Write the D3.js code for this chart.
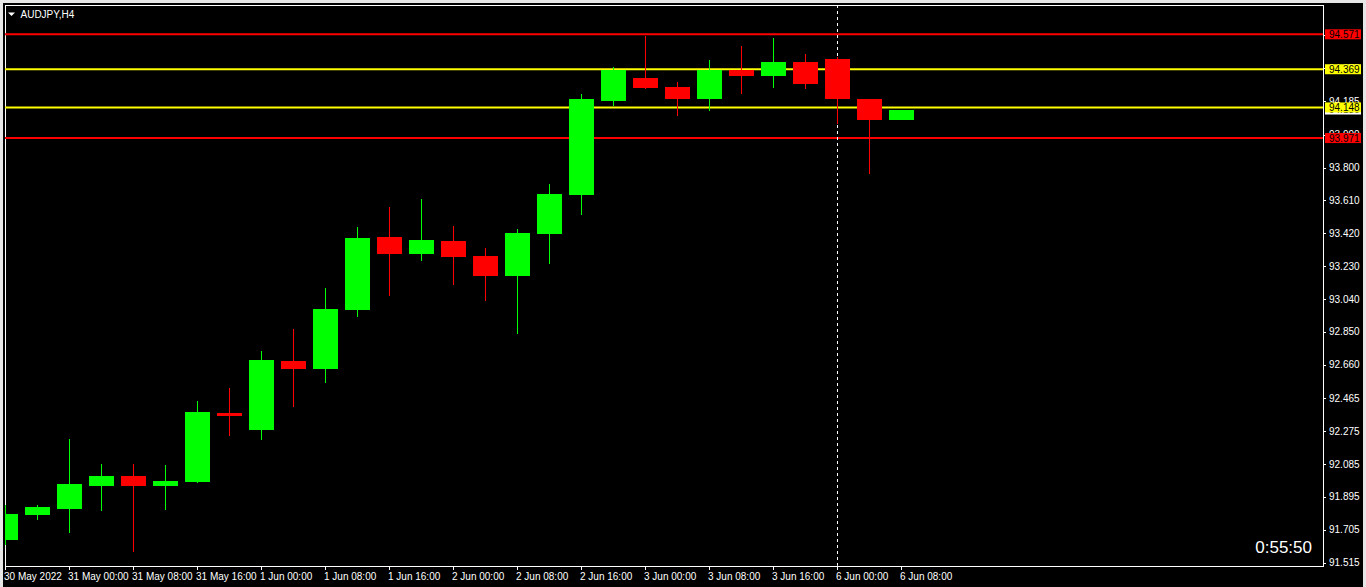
<!DOCTYPE html>
<html>
<head>
<meta charset="utf-8">
<script src="https://cdn.jsdelivr.net/npm/d3@7/dist/d3.min.js"></script>
<style>
  html, body { margin: 0; padding: 0; background: #e6e6e6; overflow: hidden; }
  svg { display: block; }
  text { font-family: "Liberation Sans", Arial, sans-serif; }
</style>
</head>
<body>
<svg id="chart" width="1366" height="587"></svg>
<script>
// ---- data (AUDJPY, H4) ----
const candleTimes = [
  "30 May 16:00","30 May 20:00","31 May 00:00","31 May 04:00","31 May 08:00","31 May 12:00",
  "31 May 16:00","31 May 20:00","1 Jun 00:00","1 Jun 04:00","1 Jun 08:00","1 Jun 12:00",
  "1 Jun 16:00","1 Jun 20:00","2 Jun 00:00","2 Jun 04:00","2 Jun 08:00","2 Jun 12:00",
  "2 Jun 16:00","2 Jun 20:00","3 Jun 00:00","3 Jun 04:00","3 Jun 08:00","3 Jun 12:00",
  "3 Jun 16:00","3 Jun 20:00","6 Jun 00:00","6 Jun 04:00","6 Jun 08:00"
];
const opens  = [91.646,91.791,91.825,91.958,92.016,91.958,91.981,92.380,92.282,92.680,92.634,92.975,93.397,93.298,93.374,93.287,93.171,93.414,93.639,94.188,94.321,94.269,94.194,94.367,94.332,94.413,94.430,94.199,94.078];
const highs  = [91.848,91.848,92.230,92.085,92.085,92.079,92.449,92.524,92.739,92.865,93.102,93.454,93.570,93.616,93.460,93.333,93.443,93.703,94.223,94.379,94.564,94.298,94.425,94.506,94.552,94.459,94.442,94.199,94.136];
const lows   = [91.617,91.762,91.687,91.814,91.577,91.820,91.975,92.247,92.224,92.414,92.553,92.934,93.056,93.258,93.119,93.027,92.836,93.241,93.524,94.159,94.252,94.101,94.130,94.223,94.263,94.252,94.055,93.761,94.078];
const closes = [91.796,91.837,91.970,92.016,91.958,91.987,92.386,92.365,92.686,92.634,92.981,93.391,93.298,93.379,93.281,93.171,93.420,93.645,94.194,94.367,94.263,94.194,94.367,94.332,94.413,94.286,94.194,94.078,94.136];

const xLabelIdx  = [0,2,4,6,8,10,12,14,16,18,20,22,24,26,28];
const xLabelText = ["30 May 2022","31 May 00:00","31 May 08:00","31 May 16:00","1 Jun 00:00","1 Jun 08:00","1 Jun 16:00","2 Jun 00:00","2 Jun 08:00","2 Jun 16:00","3 Jun 00:00","3 Jun 08:00","3 Jun 16:00","6 Jun 00:00","6 Jun 08:00"];

const yTicks = [91.515,91.705,91.895,92.085,92.275,92.465,92.660,92.850,93.040,93.230,93.420,93.610,93.800,93.990,94.185,94.375,94.565];

const levelValues = [94.571, 94.369, 94.148, 93.971];
const levelColors = ["#ff0000", "#ffff00", "#ffff00", "#ff0000"];
const bidPrice = 94.136;
const separatorIdx = 26;
const symbolTitle = "AUDJPY,H4";
const timerText = "0:55:50";

// ---- layout ----
const W = 1366, H = 587;
const plot = { left: 5, right: 1323, top: 5, bottom: 565.7 };

const svg = d3.select("#chart");

const x = d3.scaleLinear().domain([0, 28]).range([5, 901]);
const y = d3.scaleLinear().domain([91.515, 94.571]).range([562.7, 34.3]);

// panel background
svg.append("rect").attr("x", 3).attr("y", 3).attr("width", 1360).attr("height", 584).attr("fill", "#000");

// clip
svg.append("defs").append("clipPath").attr("id", "plotclip")
  .append("rect").attr("x", plot.left).attr("y", plot.top)
  .attr("width", plot.right - plot.left).attr("height", plot.bottom - plot.top);

// frame
svg.append("rect")
  .attr("x", plot.left).attr("y", plot.top + 0.5)
  .attr("width", plot.right - plot.left).attr("height", plot.bottom - plot.top)
  .attr("fill", "none").attr("stroke", "#fff").attr("stroke-width", 1)
  .attr("shape-rendering", "crispEdges");

const g = svg.append("g").attr("clip-path", "url(#plotclip)");

// level lines
levelValues.forEach((v, i) => {
  g.append("line")
    .attr("x1", plot.left).attr("x2", plot.right)
    .attr("y1", y(v)).attr("y2", y(v))
    .attr("stroke", levelColors[i]).attr("stroke-width", 2);
});

// period separator dashed
g.append("line")
  .attr("x1", x(separatorIdx) + 0.5).attr("x2", x(separatorIdx) + 0.5)
  .attr("y1", plot.top).attr("y2", plot.bottom)
  .attr("stroke", "#fff").attr("stroke-width", 1)
  .attr("stroke-dasharray", "3,3")
  .attr("shape-rendering", "crispEdges");

// candles
const candles = candleTimes.map((t, i) => ({ i, t, o: opens[i], h: highs[i], l: lows[i], c: closes[i] }));
const cg = g.selectAll("g.candle").data(candles).enter().append("g").attr("class", "candle");
cg.append("line")
  .attr("x1", d => Math.round(x(d.i)) + 0.5).attr("x2", d => Math.round(x(d.i)) + 0.5)
  .attr("y1", d => y(d.h)).attr("y2", d => y(d.l))
  .attr("stroke", d => d.c >= d.o ? "#00ff00" : "#ff0000")
  .attr("stroke-width", 1)
  .attr("shape-rendering", "crispEdges");
cg.append("rect")
  .attr("x", d => Math.round(x(d.i)) - 12)
  .attr("width", 25)
  .attr("y", d => y(Math.max(d.o, d.c)))
  .attr("height", d => Math.max(2, Math.abs(y(d.o) - y(d.c))))
  .attr("fill", d => d.c >= d.o ? "#00ff00" : "#ff0000")
  .attr("shape-rendering", "crispEdges");

// y axis ticks and labels
const ya = svg.append("g");
yTicks.forEach(v => {
  const yy = Math.round(y(v)) + 0.5;
  ya.append("line").attr("x1", plot.right).attr("x2", plot.right + 3)
    .attr("y1", yy).attr("y2", yy).attr("stroke", "#fff").attr("shape-rendering", "crispEdges");
  ya.append("text").attr("x", 1329).attr("y", y(v) + 3.5)
    .attr("fill", "#fff").attr("font-size", 10).text(v.toFixed(3));
});

// bid label (white, mostly hidden)
function priceLabel(v, bg, fg) {
  const cy = y(v);
  svg.append("rect").attr("x", 1325).attr("y", cy - 5).attr("width", 36).attr("height", 10)
    .attr("fill", bg);
  svg.append("text").attr("x", 1329).attr("y", cy + 3.5).attr("fill", fg)
    .attr("font-size", 10).text(v.toFixed(3));
}
priceLabel(bidPrice, "#ffffff", "#000");
levelValues.forEach((v, i) => priceLabel(v, levelColors[i], "#000"));

// x axis ticks and labels
const xa = svg.append("g");
xLabelIdx.forEach((idx, k) => {
  const xx = Math.round(x(idx)) + 0.5;
  xa.append("line").attr("x1", xx).attr("x2", xx)
    .attr("y1", plot.bottom).attr("y2", plot.bottom + 4)
    .attr("stroke", "#fff").attr("shape-rendering", "crispEdges");
  xa.append("text").attr("x", Math.round(x(idx)) - 1).attr("y", 579.5)
    .attr("fill", "#fff").attr("font-size", 10).text(xLabelText[k]);
});

// title
svg.append("path").attr("d", "M8,12.5 L15,12.5 L11.5,16 Z").attr("fill", "#fff");
svg.append("text").attr("x", 20.5).attr("y", 17.5).attr("fill", "#fff")
  .attr("font-size", 10).text(symbolTitle);

// timer
svg.append("text").attr("x", 1312).attr("y", 553).attr("text-anchor", "end")
  .attr("fill", "#fff").attr("font-size", 17).text(timerText);
</script>
</body>
</html>
